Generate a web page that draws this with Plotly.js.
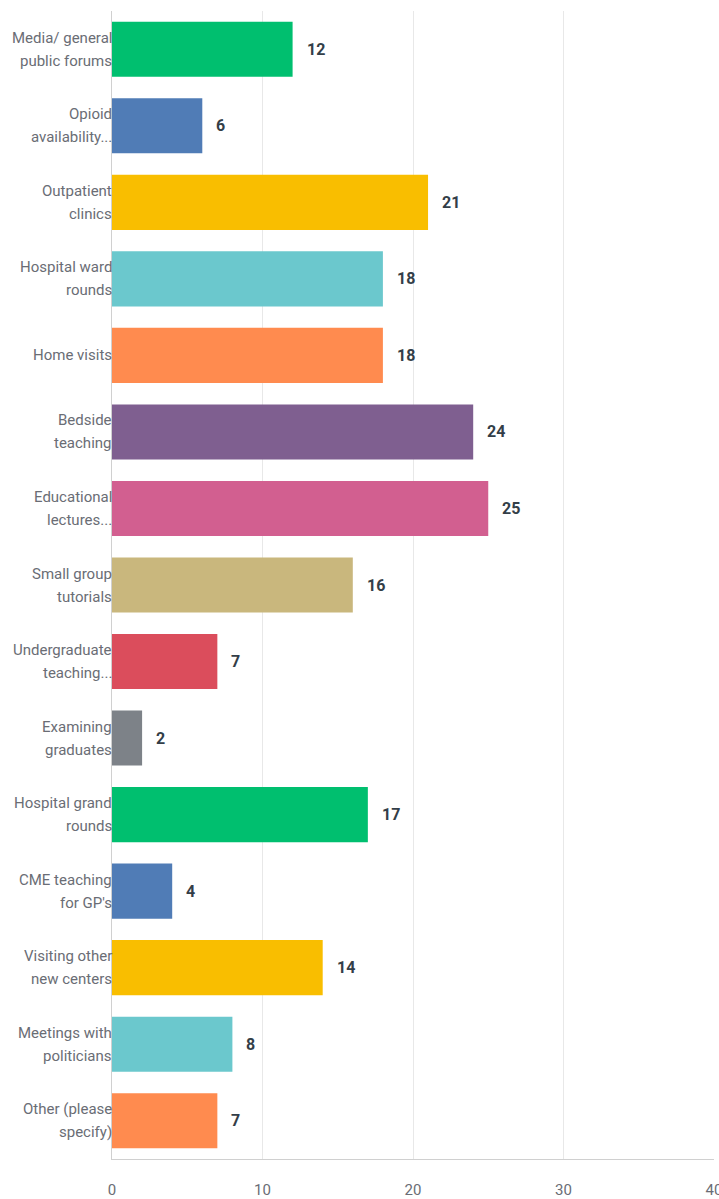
<!DOCTYPE html>
<html>
<head>
<meta charset="utf-8">
<script src="https://cdn.plot.ly/plotly-3.0.1.min.js"></script>
<style>html,body{margin:0;padding:0;background:#fff;}#chart{width:719px;height:1199px;}</style>
</head>
<body>
<div id="chart"></div>
<script>
const categories = [
  "Media/ general\npublic forums",
  "Opioid\navailability...",
  "Outpatient\nclinics",
  "Hospital ward\nrounds",
  "Home visits",
  "Bedside\nteaching",
  "Educational\nlectures...",
  "Small group\ntutorials",
  "Undergraduate\nteaching...",
  "Examining\ngraduates",
  "Hospital grand\nrounds",
  "CME teaching\nfor GP's",
  "Visiting other\nnew centers",
  "Meetings with\npoliticians",
  "Other (please\nspecify)"
];
const values = [12, 6, 21, 18, 18, 24, 25, 16, 7, 2, 17, 4, 14, 8, 7];
const barColors = ["#00BF6F","#507CB6","#F9BE00","#6BC8CD","#FF8B4F","#7F5F90","#D25F90","#C9B77D","#DB4D5C","#7D8288","#00BF6F","#507CB6","#F9BE00","#6BC8CD","#FF8B4F"];
const xTicks = [0, 10, 20, 30, 40];

const labelFont = {family: "Roboto, sans-serif", size: 15, color: "#6A6D75"};
const annotations = [];
categories.forEach((c, i) => {
  const lines = c.split("\n");
  lines.forEach((ln, j) => {
    const shift = lines.length === 1 ? 0 : (j === 0 ? 11.5 : -11.5);
    annotations.push({
      x: 0, y: i, xref: "x", yref: "y", text: ln, showarrow: false,
      xanchor: "right", yanchor: "middle", yshift: shift, xshift: 2,
      font: labelFont
    });
  });
  annotations.push({
    x: values[i], y: i, xref: "x", yref: "y", text: String(values[i]), showarrow: false,
    xanchor: "left", yanchor: "middle", xshift: 12,
    font: {family: "Roboto, sans-serif", size: 16, color: "#333E48", weight: "bold"}
  });
});

const trace = {
  type: "bar",
  orientation: "h",
  x: values,
  y: categories.map((c, i) => i),
  marker: {color: barColors},
  width: 0.72,
  hoverinfo: "none"
};

const layout = {
  width: 719, height: 1199,
  margin: {l: 112, r: 5, t: 11, b: 40},
  paper_bgcolor: "#fff", plot_bgcolor: "#fff",
  showlegend: false,
  xaxis: {
    range: [0, 40], tickvals: xTicks, ticktext: xTicks.map(String),
    showgrid: true, gridcolor: "#E8E8E8", gridwidth: 1,
    zeroline: false, showline: true, linecolor: "#D0D0D0", linewidth: 1,
    ticks: "", ticklabelstandoff: 17, ticklabeloverflow: "allow",
    tickfont: {family: "Roboto, sans-serif", size: 15, color: "#6A6D75"},
    fixedrange: true
  },
  yaxis: {
    range: [14.5, -0.5], showticklabels: false, showgrid: false,
    zeroline: false, showline: true, linecolor: "#D0D0D0", linewidth: 1,
    ticks: "", fixedrange: true
  },
  annotations: annotations
};

Plotly.newPlot("chart", [trace], layout, {displayModeBar: false, staticPlot: true});
</script>
</body>
</html>
